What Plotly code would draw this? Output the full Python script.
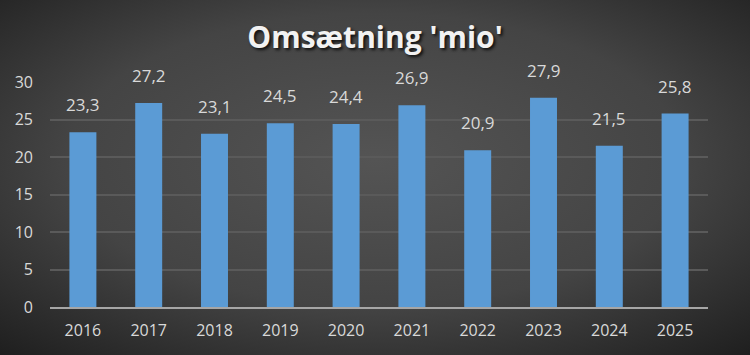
import plotly.graph_objects as go
import base64

years = ["2016", "2017", "2018", "2019", "2020", "2021", "2022", "2023", "2024", "2025"]
values = [23.3, 27.2, 23.1, 24.5, 24.4, 26.9, 20.9, 27.9, 21.5, 25.8]
labels = [f"{v:.1f}".replace(".", ",") for v in values]
title_text = "Omsætning 'mio'"

W, H = 750, 355
ML, MR, MT, MB = 50, 42, 82, 48
PW, PH = W - ML - MR, H - MT - MB

svg = f'''<svg xmlns="http://www.w3.org/2000/svg" width="{W}" height="{H}" viewBox="0 0 {W} {H}" preserveAspectRatio="none">
<defs><radialGradient id="g" cx="50%" cy="45%" r="75%" gradientUnits="objectBoundingBox">
<stop offset="0%" stop-color="#545454"/><stop offset="55%" stop-color="#444444"/><stop offset="100%" stop-color="#1e1e1e"/>
</radialGradient></defs><rect width="{W}" height="{H}" fill="url(#g)"/></svg>'''
src = "data:image/svg+xml;base64," + base64.b64encode(svg.encode()).decode()

fig = go.Figure()
fig.add_trace(go.Bar(
    x=years, y=values,
    marker=dict(color="#5b9bd5", line=dict(width=0)),
    hoverinfo="skip",
))
annotations = [
    dict(x=i, y=v, xref="x", yref="y", text=lb, showarrow=False, yanchor="bottom", yshift=14,
         font=dict(color="#d9d9d9", size=17, family="Open Sans"))
    for i, (v, lb) in enumerate(zip(values, labels))
]
fig.update_layout(
    width=W, height=H,
    margin=dict(l=ML, r=MR, t=MT, b=MB),
    paper_bgcolor="#404040", plot_bgcolor="rgba(0,0,0,0)",
    bargap=0.59, showlegend=False,
    annotations=annotations,
    title=dict(text=f"<b>{title_text}</b>", x=0.5, xanchor="center", y=0.895, yanchor="middle",
               font=dict(size=30, color="#f2f2f2", family="Open Sans", shadow="2px 2px 3px #111")),
    xaxis=dict(type="category", showgrid=False, showline=True, linecolor="#a6a6a6", linewidth=2,
               ticks="", tickfont=dict(size=16, color="#d9d9d9", family="Open Sans"), ticklabelstandoff=8),
    yaxis=dict(range=[0, 30], dtick=5, showgrid=True, gridcolor="#5a5a5a", gridwidth=1.5,
               zeroline=False, showline=False, ticks="",
               tickfont=dict(size=16, color="#d9d9d9", family="Open Sans"), ticklabelstandoff=16),
    images=[dict(source=src, xref="paper", yref="paper", x=-ML / PW, y=1 + MT / PH,
                 sizex=W / PW, sizey=H / PH, sizing="stretch", layer="below",
                 xanchor="left", yanchor="top")],
)
fig.write_html("out.html")
